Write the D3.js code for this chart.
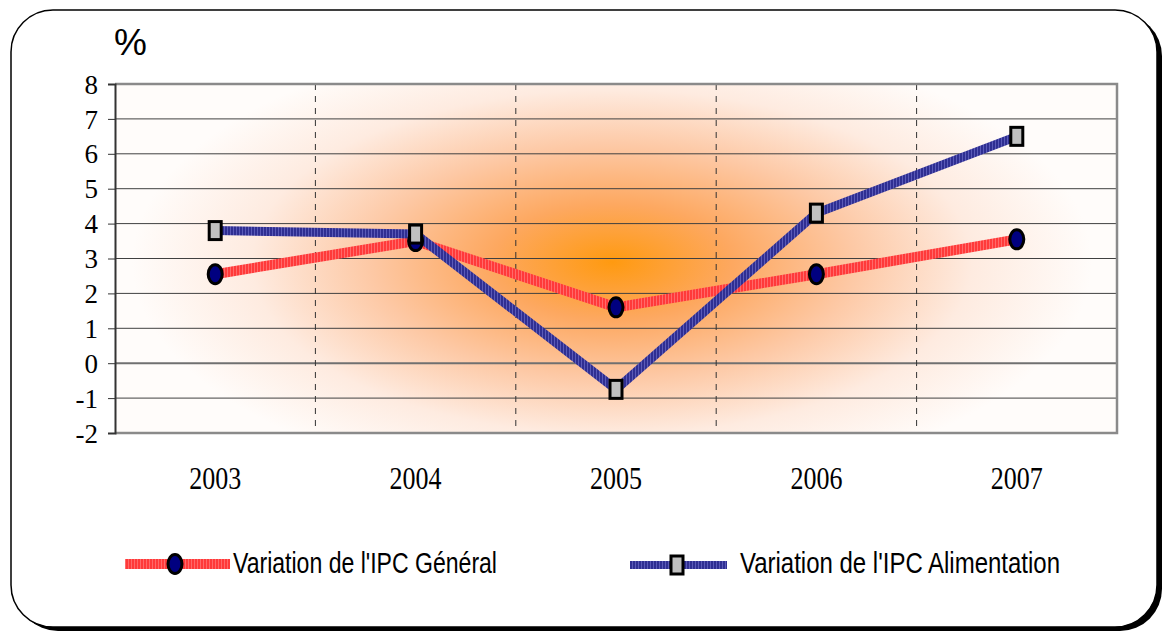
<!DOCTYPE html>
<html>
<head>
<meta charset="utf-8">
<title>IPC</title>
<style>
body { margin: 0; background: #fff; }
svg { display: block; }
.ylab { font-family: "Liberation Serif", serif; font-size: 27px; fill: #000; }
.xlab { font-family: "Liberation Serif", serif; font-size: 31px; fill: #000; }
.leg { font-family: "Liberation Sans", Arial, sans-serif; font-size: 29px; fill: #000; }
</style>
</head>
<body>
<div id="chart"></div>
<script src="https://d3js.org/d3.v7.min.js"></script>
<script>
const years = ["2003", "2004", "2005", "2006", "2007"]
const ipcGeneral = [2.55, 3.5, 1.6, 2.55, 3.55]
const ipcAlimentation = [3.8, 3.7, -0.75, 4.3, 6.5]
const yTicks = [-2, -1, 0, 1, 2, 3, 4, 5, 6, 7, 8]
const seriesNames = ["Variation de l'IPC Général", "Variation de l'IPC Alimentation"]

const W = 1164, H = 632
const plot = {left: 115, right: 1117, top: 84, bottom: 433}

const svg = d3.select("#chart").append("svg")
    .attr("width", W)
    .attr("height", H)

const defs = svg.append("defs")

// orange glow in the middle of the plot
const grad = defs.append("radialGradient")
    .attr("id", "glow")
    .attr("gradientUnits", "userSpaceOnUse")
    .attr("cx", 0).attr("cy", 0).attr("r", 1)
    .attr("gradientTransform", "translate(612,262) scale(480,230)")
grad.selectAll("stop")
    .data([[0, "#ff9a10"], [0.25, "#fda860"], [0.5, "#fdc8a4"], [0.75, "#feebe0"], [1, "#fffcfa"]])
    .enter().append("stop")
    .attr("offset", d => d[0])
    .attr("stop-color", d => d[1])

// striped strokes
const stripes = (id, a, b) => {
    const p = defs.append("pattern")
        .attr("id", id)
        .attr("patternUnits", "userSpaceOnUse")
        .attr("width", 3).attr("height", 3)
    p.append("rect").attr("width", 3).attr("height", 3).attr("fill", a)
    p.append("rect").attr("x", 2).attr("width", 1).attr("height", 3).attr("fill", b)
}
stripes("redStripe", "#ff3a3a", "#ff6a6a")
stripes("blueStripe", "#2f2f92", "#5a5ab8")

// frame with shadow
svg.append("rect")
    .attr("x", 16).attr("y", 14)
    .attr("width", 1146).attr("height", 617)
    .attr("rx", 42)
    .attr("fill", "#000")
svg.append("rect")
    .attr("x", 11).attr("y", 10)
    .attr("width", 1146).attr("height", 617)
    .attr("rx", 42)
    .attr("fill", "#fff")
    .attr("stroke", "#000")
    .attr("stroke-width", 1.5)

const x = d3.scalePoint()
    .domain(years)
    .range([plot.left, plot.right])
    .padding(0.5)
const band = d3.scaleBand()
    .domain(years)
    .range([plot.left, plot.right])
const y = d3.scaleLinear()
    .domain([-2, 8])
    .range([plot.bottom, plot.top])

svg.append("rect")
    .attr("x", plot.left).attr("y", plot.top)
    .attr("width", plot.right - plot.left)
    .attr("height", plot.bottom - plot.top)
    .attr("fill", "url(#glow)")

// horizontal gridlines
svg.append("g")
    .selectAll("line")
    .data(yTicks.filter(d => d > -2 && d < 8))
    .enter().append("line")
    .attr("x1", plot.left).attr("x2", plot.right)
    .attr("y1", d => y(d)).attr("y2", d => y(d))
    .attr("stroke", d => d === 0 ? "#707070" : "#404040")
    .attr("stroke-width", d => d === 0 ? 2 : 1)

// dashed category separators
svg.append("g")
    .selectAll("line")
    .data(years.slice(1))
    .enter().append("line")
    .attr("x1", d => band(d)).attr("x2", d => band(d))
    .attr("y1", plot.top).attr("y2", plot.bottom)
    .attr("stroke", "#333")
    .attr("stroke-dasharray", "6,6")

// plot border (grey top/right/bottom)
svg.append("path")
    .attr("d", `M${plot.left},${plot.top}H${plot.right}V${plot.bottom}H${plot.left}`)
    .attr("fill", "none")
    .attr("stroke", "#8a8a8a")
    .attr("stroke-width", 2.5)

// y axis
const yAxis = svg.append("g")
    .attr("transform", `translate(${plot.left},0)`)
    .call(d3.axisLeft(y).tickValues(yTicks).tickSize(7).tickFormat(d => String(d)))
yAxis.select(".domain").attr("stroke", "#333").attr("stroke-width", 2)
yAxis.selectAll(".tick line").attr("stroke", "#333")
yAxis.selectAll("text")
    .attr("class", "ylab")
    .attr("x", -17)
    .attr("dy", "0.34em")
    .attr("font-family", null).attr("font-size", null)

// x labels
svg.append("g")
    .selectAll("text")
    .data(years)
    .enter().append("text")
    .attr("class", "xlab")
    .attr("x", d => x(d))
    .attr("y", 489)
    .attr("text-anchor", "middle")
    .attr("textLength", 52)
    .attr("lengthAdjust", "spacingAndGlyphs")
    .text(d => d)

svg.append("text")
    .attr("x", 114).attr("y", 55)
    .attr("font-family", "Liberation Sans, Arial, sans-serif")
    .attr("font-size", 37)
    .text("%")

const line = d3.line()
    .x((d, i) => x(years[i]))
    .y(d => y(d))

svg.append("path")
    .datum(ipcGeneral)
    .attr("d", line)
    .attr("fill", "none")
    .attr("stroke", "url(#redStripe)")
    .attr("stroke-width", 10)
svg.append("path")
    .datum(ipcAlimentation)
    .attr("d", line)
    .attr("fill", "none")
    .attr("stroke", "url(#blueStripe)")
    .attr("stroke-width", 9)

const circleMark = (sel, cx, cy) => sel.append("ellipse")
    .attr("cx", cx).attr("cy", cy)
    .attr("rx", 7).attr("ry", 9.5)
    .attr("fill", "#000080")
    .attr("stroke", "#000")
    .attr("stroke-width", 3)
const squareMark = (sel, cx, cy) => sel.append("rect")
    .attr("x", cx - 6).attr("y", cy - 9)
    .attr("width", 12).attr("height", 18)
    .attr("fill", "#c0c0c0")
    .attr("stroke", "#000")
    .attr("stroke-width", 3)

const marks = svg.append("g")
ipcGeneral.forEach((v, i) => circleMark(marks, x(years[i]), y(v)))
ipcAlimentation.forEach((v, i) => squareMark(marks, x(years[i]), y(v)))

// legend
const leg = svg.append("g")
leg.append("line")
    .attr("x1", 125).attr("x2", 230)
    .attr("y1", 564).attr("y2", 564)
    .attr("stroke", "url(#redStripe)")
    .attr("stroke-width", 10)
circleMark(leg, 175, 564)
leg.append("text")
    .attr("class", "leg")
    .attr("x", 233).attr("y", 573)
    .attr("textLength", 264)
    .attr("lengthAdjust", "spacingAndGlyphs")
    .text(seriesNames[0])

leg.append("line")
    .attr("x1", 630).attr("x2", 727)
    .attr("y1", 565).attr("y2", 565)
    .attr("stroke", "url(#blueStripe)")
    .attr("stroke-width", 8)
squareMark(leg, 677, 565)
leg.append("text")
    .attr("class", "leg")
    .attr("x", 740).attr("y", 573)
    .attr("textLength", 320)
    .attr("lengthAdjust", "spacingAndGlyphs")
    .text(seriesNames[1])
</script>
</body>
</html>
